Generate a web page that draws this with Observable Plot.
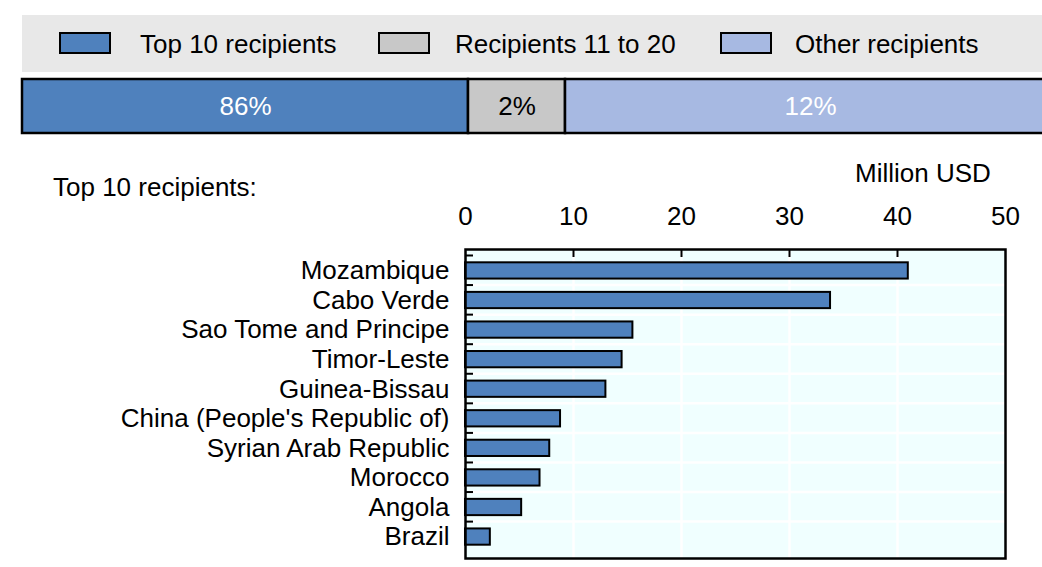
<!DOCTYPE html>
<html><head><meta charset="utf-8">
<script src="https://cdn.jsdelivr.net/npm/d3@7"></script>
<script src="https://cdn.jsdelivr.net/npm/@observablehq/plot@0.6"></script>
<style>
body{margin:0;background:#fff;}
#wrap{position:relative;width:1042px;height:567px;overflow:hidden;font-family:"Liberation Sans",Arial,sans-serif;font-size:26px;color:#000;}
.abs{position:absolute;line-height:26px;white-space:nowrap;}
.sw{position:absolute;box-sizing:border-box;border:2px solid #000;width:52px;height:22px;}
#wrap svg{position:absolute;left:0;overflow:visible;}
</style></head><body>
<div id="wrap">
  <div id="legend" style="position:absolute;left:22px;top:15px;width:1030px;height:57px;background:#e8e8e8"></div>
  <div id="share" style="position:absolute;left:0;top:76px;width:1042px;height:60px"></div>
  <div class="abs" style="left:53px;top:174px">Top 10 recipients:</div>
  <div class="abs" style="left:855px;top:160px">Million USD</div>
  <div id="main" style="position:absolute;left:0;top:150px;width:1042px;height:417px"></div>
</div>
<script>
// ---- data ----
const groups = ["Top 10 recipients", "Recipients 11 to 20", "Other recipients"];
const shares = [86, 2, 12];
const countries = ["Mozambique", "Cabo Verde", "Sao Tome and Principe", "Timor-Leste", "Guinea-Bissau",
  "China (People's Republic of)", "Syrian Arab Republic", "Morocco", "Angola", "Brazil"];
const amounts = [41.0, 33.8, 15.5, 14.5, 13.0, 8.8, 7.8, 6.9, 5.2, 2.3];
const xTicks = [0, 10, 20, 30, 40, 50];

// ---- styles / layout ----
const groupColors = ["#4f81bd", "#c8c8c8", "#a7b9e2"];
const groupTextColors = ["#ffffff", "#000000", "#ffffff"];
const FONT = '"Liberation Sans",Arial,sans-serif';
const FS = "26px";
const legendLayout = [{sw: 59, tx: 140}, {sw: 378, tx: 455}, {sw: 720, tx: 795}];

// ---- legend ----
const wrap = document.getElementById("wrap");
groups.forEach((g, i) => {
  const s = document.createElement("div");
  s.className = "sw";
  s.style.left = legendLayout[i].sw + "px";
  s.style.top = "32px";
  s.style.background = groupColors[i];
  wrap.appendChild(s);
  const t = document.createElement("div");
  t.className = "abs";
  t.style.left = legendLayout[i].tx + "px";
  t.style.top = "31px";
  t.textContent = g;
  wrap.appendChild(t);
});

// ---- share bar ----
const shareData = groups.map((g, i) => ({group: g, share: shares[i], color: groupColors[i], tcolor: groupTextColors[i]}));
const cum = [0, ...d3.cumsum(shares)];
const sharePlot = Plot.plot({
  width: 1042, height: 60,
  marginLeft: 0, marginRight: 0, marginTop: 3, marginBottom: 3,
  x: {type: "linear", domain: cum, range: [22, 468, 565, 1055], axis: null},
  color: {type: "identity"},
  style: {fontFamily: FONT, fontSize: FS, background: "transparent", overflow: "visible"},
  marks: [
    Plot.barX(shareData, Plot.stackX({x: "share", fill: "color", stroke: "#000", strokeWidth: 2.5})),
    Plot.text(shareData, Plot.stackX({x: "share", text: d => d.share + "%", fill: "tcolor"}))
  ]
});
document.getElementById("share").appendChild(sharePlot);

// ---- main bar chart ----
const data = countries.map((c, i) => ({country: c, amount: amounts[i]}));
const H = 417, MT = 99, MB = 9;
const step = (H - MT - MB) / countries.length;
const main = Plot.plot({
  width: 1042, height: H,
  marginTop: MT, marginBottom: MB, marginLeft: 465, marginRight: 37,
  x: {domain: [0, 50], axis: null, label: null},
  y: {domain: countries, padding: 0.45, round: false, axis: null, label: null},
  style: {fontFamily: FONT, fontSize: FS, background: "transparent", overflow: "visible", color: "#000"},
  marks: [
    Plot.frame({fill: "#f0ffff", stroke: null}),
    Plot.ruleX(xTicks.slice(1, -1), {stroke: "#fff", strokeWidth: 2.5}),
    Plot.ruleY(countries.slice(1), {stroke: "#fff", strokeWidth: 2.5, dy: -step / 2}),
    Plot.barX(data, {x: "amount", y: "country", fill: groupColors[0], stroke: "#000", strokeWidth: 2}),
    Plot.axisY({anchor: "left", label: null, tickSize: -8, strokeWidth: 2, tickFormat: () => "", dy: -step / 2}),
    Plot.axisY({anchor: "left", label: null, tickSize: 0, tickPadding: 16, fill: "#000"}),
    Plot.axisX({anchor: "top", label: null, ticks: xTicks.slice(1, -1), tickSize: -7, strokeWidth: 2, tickFormat: () => ""}),
    Plot.axisX({anchor: "top", label: null, ticks: xTicks, tickSize: 0, tickPadding: 25, fill: "#000"}),
    Plot.frame({stroke: "#000", strokeWidth: 2.5})
  ]
});
document.getElementById("main").appendChild(main);
</script>
</body></html>
